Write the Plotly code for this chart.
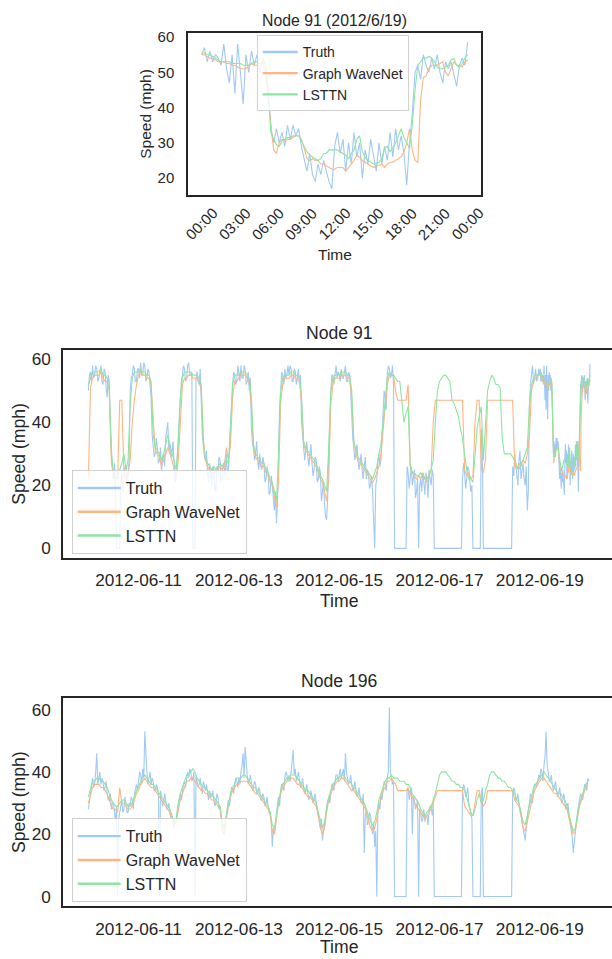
import pandas as pd
import plotly.graph_objects as go

# ---------------- data ----------------
# Top panel: Node 91 on 2012-06-19, 15-minute steps 00:00 .. 24:00
top_truth = [55, 57, 53, 56, 53, 55, 54, 52, 58, 51,
             47, 55, 44, 58, 50, 41, 55, 50, 56, 52,
             55, 50, 54, 52, 46, 34, 30, 34, 30, 33,
             29, 35, 31, 35, 32, 34, 29, 25, 22, 27,
             21, 19, 24, 21, 25, 22, 19, 17, 29, 33,
             27, 31, 22, 30, 24, 33, 26, 30, 20, 28,
             24, 31, 26, 22, 30, 24, 29, 25, 33, 26,
             34, 28, 32, 27, 18, 30, 38, 50, 52, 48,
             55, 52, 50, 54, 51, 55, 50, 47, 53, 51,
             53, 49, 46, 52, 54, 52, 58.6]
top_gwn = [55, 55, 54.5, 54, 54, 53.5, 53, 53, 53, 52.5,
           52.5, 52, 52, 51.5, 51, 51, 51, 52, 52.5, 52,
           52, 52.5, 53, 50, 42, 36, 28, 27, 30, 31,
           30.5, 31, 31, 31.5, 32, 32, 31, 28.5, 25.5, 25,
           25.5, 25, 25, 24, 24, 23.5, 23, 22.5, 22.5, 23,
           23, 23, 22, 23, 24, 25, 26.5, 26, 25, 24.5,
           24, 23.5, 23, 23.5, 23.5, 24, 23, 24, 24.5, 24.5,
           25, 25.5, 26, 27.5, 30, 34, 28, 25, 24.5, 42,
           48.5, 49, 51, 52, 52, 52, 52.5, 53, 50, 49,
           51, 53, 52, 52, 51.5, 53, 53.5]
top_lsttn = [55.5, 55.5, 55, 55, 54.5, 54, 53.5, 53, 53, 53,
             53, 52.5, 52.5, 52.5, 52.5, 52, 52, 52, 52.5, 53,
             53, 54, 54, 52, 44, 33, 31, 29.5, 29, 30.5,
             31, 31.5, 31.5, 32, 32, 32, 30.5, 29, 27.5, 26.5,
             26, 25.5, 25, 25.5, 27, 27, 28, 28, 28, 28,
             27.5, 27, 26.5, 25.5, 27, 28, 31, 32, 27.5, 26,
             25, 24.5, 24, 24, 24.5, 25.5, 28.5, 29, 27.5, 28.5,
             30, 32, 34, 31.5, 30, 28.5, 35, 45, 52, 53,
             54, 54, 54.5, 54, 53, 51.5, 51, 51, 51.5, 52,
             53.5, 54, 52, 51.5, 52.5, 54, 55]

# Node 91, 2012-06-10 00:00 .. 2012-06-18 23:00 (06-19 comes from the top panel)
# truth read on the hour and on the half hour; predictions on the hour
n91_truth = (
    [50, 56, 58, 55, 57, 54, 58, 52, 56, 48, 53, 30, 22, 18, 0, 0, 24, 21, 26, 23, 50, 55, 57, 53]
    + [57, 59, 55, 58, 54, 56, 48, 33, 30, 32, 28, 24, 30, 35, 40, 33, 30, 26, 22, 35, 48, 55, 57, 54]
    + [59, 55, 0, 0, 56, 52, 44, 33, 28, 24, 27, 20, 25, 18, 24, 28, 22, 26, 30, 25, 40, 52, 55, 53]
    + [56, 58, 54, 57, 53, 50, 38, 32, 30, 28, 30, 25, 27, 22, 24, 18, 20, 12, 8, 38, 50, 55, 57, 55]
    + [55, 57, 53, 56, 54, 52, 40, 32, 31, 29, 30, 27, 25, 28, 22, 24, 18, 14, 9, 30, 50, 55, 56, 54]
    + [55, 57, 54, 58, 53, 55, 42, 32, 30, 28, 27, 25, 26, 22, 24, 20, 18, 0, 22, 30, 28, 42, 48, 55]
    + [57, 55, 52, 0, 0, 0, 0, 0, 0, 24, 22, 20, 25, 18, 0, 22, 24, 17, 22, 25, 20, 23, 0, 0]
    + [0, 0, 0, 0, 0, 0, 0, 0, 0, 0, 0, 22, 24, 22, 25, 18, 0, 0, 0, 0, 38, 0, 0, 0]
    + [0, 0, 0, 0, 0, 0, 0, 0, 0, 0, 0, 26, 30, 24, 28, 22, 27, 20, 12, 45, 55, 52, 57, 54]
)
n91_truth_half = (
    [55, 53, 54, 58, 53, 57, 53, 57, 51, 55, 40, 25, 27, 0, 0, 20, 18, 26, 20, 28, 54, 58, 53, 57]
    + [54, 55, 59, 53, 57, 52, 36, 29, 35, 27, 32, 29, 26, 38, 31, 29, 34, 21, 27, 42, 53, 58, 53, 58]
    + [55, 56, 0, 54, 53, 57, 36, 29, 31, 21, 23, 26, 19, 26, 29, 21, 27, 23, 24, 31, 47, 56, 52, 58]
    + [53, 54, 58, 52, 56, 54, 33, 28, 34, 25, 26, 29, 21, 26, 17, 23, 14, 18, 15, 45, 56, 52, 54, 58]
    + [58, 53, 57, 52, 57, 55, 34, 28, 34, 26, 33, 23, 29, 21, 26, 15, 21, 10, 16, 44, 55, 52, 58, 56]
    + [53, 54, 57, 53, 56, 50, 35, 28, 33, 25, 30, 22, 29, 25, 19, 23, 10, 20, 27, 26, 36, 50, 44, 58]
    + [54, 58, 0, 0, 0, 0, 0, 0, 26, 19, 26, 23, 16, 22, 20, 18, 21, 24, 16, 22, 25, 0, 0, 0]
    + [0, 0, 0, 0, 0, 0, 0, 0, 0, 0, 0, 27, 19, 26, 21, 20, 0, 0, 0, 0, 32, 0, 0, 0]
    + [0, 0, 0, 0, 0, 0, 0, 0, 0, 0, 0, 23, 26, 20, 31, 25, 22, 26, 18, 52, 58, 54, 53, 57]
)
n91_gwn = (
    [22, 51, 54, 55, 55, 55, 56, 54, 53, 53, 50, 27, 24, 22, 22, 47, 47, 24, 22, 24, 28, 40, 47, 52]
    + [55, 56, 55, 55, 54, 54, 52, 40, 31, 30, 29, 26, 28, 30, 32, 30, 28, 25, 23, 28, 40, 52, 54, 54]
    + [55, 55, 54, 54, 54, 53, 50, 35, 28, 26, 25, 24, 25, 24, 25, 26, 25, 26, 32, 28, 33, 48, 53, 53]
    + [54, 55, 55, 55, 54, 52, 45, 32, 29, 28, 27, 26, 26, 24, 23, 21, 20, 16, 13, 22, 46, 52, 54, 54]
    + [54, 55, 55, 54, 54, 53, 46, 33, 31, 30, 29, 28, 27, 26, 24, 22, 21, 18, 15, 22, 46, 52, 54, 54]
    + [54, 55, 55, 55, 54, 54, 48, 34, 30, 28, 27, 26, 25, 24, 23, 22, 21, 22, 24, 26, 30, 38, 45, 52]
    + [55, 55, 55, 50, 47, 47, 47, 47, 47, 52, 26, 24, 23, 22, 23, 22, 24, 22, 21, 23, 25, 40, 47, 47]
    + [47, 47, 47, 47, 47, 47, 47, 47, 47, 47, 47, 47, 25, 23, 24, 22, 23, 40, 47, 47, 25, 24, 28, 47]
    + [47, 47, 47, 47, 47, 47, 47, 47, 47, 47, 47, 47, 26, 25, 27, 26, 28, 27, 30, 35, 50, 53, 54, 55]
)
n91_lsttn = (
    [52, 54, 56, 56, 56, 56, 57, 55, 55, 54, 50, 30, 24, 22, 23, 25, 27, 30, 25, 28, 46, 54, 56, 56]
    + [56, 57, 56, 56, 55, 55, 53, 36, 32, 31, 30, 28, 30, 33, 36, 33, 30, 27, 25, 33, 48, 54, 56, 56]
    + [56, 56, 55, 55, 55, 54, 52, 33, 29, 27, 26, 25, 26, 25, 26, 27, 26, 27, 28, 27, 42, 52, 55, 55]
    + [55, 56, 56, 56, 55, 54, 48, 33, 30, 29, 28, 27, 27, 25, 24, 22, 21, 18, 15, 30, 50, 54, 55, 55]
    + [55, 56, 56, 55, 55, 54, 48, 34, 32, 31, 30, 29, 28, 27, 25, 23, 22, 20, 18, 32, 50, 54, 55, 55]
    + [55, 56, 56, 56, 55, 55, 50, 34, 31, 29, 28, 27, 26, 25, 24, 23, 22, 24, 26, 30, 33, 40, 47, 54]
    + [56, 55, 55, 54, 53, 53, 47, 40, 43, 45, 26, 24, 24, 23, 23, 24, 23, 22, 22, 23, 25, 28, 40, 50]
    + [53, 54, 55, 55, 54, 53, 47, 46, 44, 42, 38, 35, 30, 25, 22, 22, 21, 30, 38, 42, 45, 28, 40, 50]
    + [53, 55, 54, 52, 52, 51, 35, 30, 30, 30, 30, 29, 28, 26, 25, 27, 28, 30, 32, 45, 52, 54, 55, 55]
)

# Node 196, 2012-06-10 00:00 .. 2012-06-19 23:00
n196_truth = (
    [28, 33, 38, 36, 46, 38, 36, 37, 35, 33, 31, 28, 30, 24, 0, 27, 31, 28, 30, 27, 29, 31, 33, 36]
    + [37, 39, 41, 53, 40, 38, 36, 37, 34, 35, 0, 32, 30, 31, 28, 27, 25, 22, 24, 29, 33, 34, 37, 38]
    + [38, 40, 38, 0, 37, 36, 35, 37, 34, 33, 34, 32, 31, 30, 32, 29, 23, 21, 27, 31, 33, 35, 36, 37]
    + [38, 40, 46, 48, 39, 37, 36, 35, 36, 33, 34, 31, 32, 30, 29, 27, 16, 20, 27, 32, 34, 36, 38, 39]
    + [39, 40, 47, 41, 38, 37, 36, 35, 34, 33, 32, 32, 31, 30, 26, 22, 18, 23, 29, 32, 34, 36, 37, 39]
    + [39, 38, 41, 46, 38, 37, 36, 35, 34, 33, 32, 30, 14, 28, 24, 26, 20, 16, 0, 30, 33, 35, 36, 38]
    + [60.7, 38, 37, 0, 0, 0, 0, 0, 0, 35, 33, 20, 31, 29, 0, 27, 25, 24, 26, 27, 29, 30, 0, 0]
    + [0, 0, 0, 0, 0, 0, 0, 0, 0, 0, 0, 34, 35, 33, 30, 27, 0, 0, 0, 0, 33, 0, 0, 0]
    + [0, 0, 0, 0, 0, 0, 0, 0, 0, 0, 0, 33, 34, 31, 30, 27, 22, 18, 26, 30, 32, 34, 36, 37]
    + [38, 40, 42, 53, 40, 37, 36, 35, 34, 33, 32, 31, 30, 29, 26, 22, 14, 20, 27, 30, 32, 34, 36, 38]
)
n196_truth_half = (
    [31, 37, 35, 40, 36, 40, 38, 34, 37, 31, 33, 30, 26, 29, 25, 30, 27, 32, 27, 30, 32, 28, 35, 34]
    + [40, 36, 38, 44, 36, 40, 38, 34, 36, 33, 34, 29, 33, 28, 30, 25, 23, 25, 27, 32, 31, 36, 35, 40]
    + [41, 37, 40, 39, 35, 38, 33, 35, 36, 31, 32, 34, 29, 33, 28, 26, 20, 24, 30, 29, 35, 33, 38, 35]
    + [36, 42, 38, 41, 36, 39, 34, 37, 33, 35, 31, 33, 29, 32, 27, 24, 22, 24, 30, 29, 36, 34, 40, 37]
    + [37, 43, 39, 37, 40, 35, 38, 33, 36, 31, 34, 30, 33, 28, 24, 25, 21, 26, 31, 30, 36, 34, 39, 37]
    + [41, 40, 37, 40, 36, 39, 34, 37, 32, 35, 30, 33, 26, 23, 27, 22, 24, 21, 27, 28, 31, 37, 34, 40]
    + [40, 36, 0, 0, 0, 0, 0, 0, 34, 31, 35, 32, 28, 31, 28, 24, 28, 26, 23, 29, 26, 0, 0, 0]
    + [0, 0, 0, 0, 0, 0, 0, 0, 0, 0, 0, 36, 32, 35, 28, 25, 0, 0, 0, 0, 35, 0, 0, 0]
    + [0, 0, 0, 0, 0, 0, 0, 0, 0, 0, 0, 35, 31, 33, 28, 25, 20, 22, 28, 33, 30, 36, 35, 39]
    + [41, 37, 45, 42, 37, 39, 34, 37, 32, 35, 30, 33, 28, 30, 24, 19, 18, 24, 29, 33, 31, 36, 34, 37]
)
n196_gwn = (
    [30, 33, 35, 36, 36, 36, 35, 35, 34, 33, 31, 29, 28, 28, 27, 35, 30, 30, 29, 28, 28, 29, 31, 33]
    + [34, 36, 37, 38, 37, 36, 35, 35, 34, 33, 32, 31, 30, 29, 28, 27, 25, 23, 24, 28, 31, 33, 35, 37]
    + [37, 38, 38, 37, 36, 35, 34, 34, 33, 33, 32, 31, 31, 30, 29, 28, 22, 20, 25, 29, 32, 34, 35, 36]
    + [36, 37, 37, 37, 37, 36, 35, 34, 33, 33, 32, 31, 30, 29, 28, 26, 21, 20, 25, 30, 33, 35, 36, 37]
    + [37, 38, 38, 37, 36, 36, 35, 34, 33, 32, 32, 31, 30, 29, 26, 22, 20, 22, 27, 31, 33, 35, 36, 37]
    + [37, 38, 38, 37, 36, 35, 34, 34, 33, 32, 31, 30, 29, 27, 24, 22, 21, 22, 25, 29, 32, 34, 35, 37]
    + [37, 38, 37, 36, 34, 34, 34, 34, 34, 35, 33, 32, 30, 29, 28, 27, 26, 25, 26, 27, 28, 30, 32, 34]
    + [34, 34, 34, 34, 34, 34, 34, 34, 34, 34, 34, 34, 29, 28, 27, 26, 26, 30, 34, 34, 30, 29, 30, 34]
    + [34, 34, 34, 34, 34, 34, 34, 34, 34, 34, 34, 34, 31, 30, 29, 26, 22, 21, 24, 28, 31, 33, 35, 36]
    + [37, 38, 38, 37, 36, 35, 34, 33, 33, 32, 31, 30, 29, 28, 25, 22, 20, 21, 25, 29, 31, 33, 35, 36]
)
n196_lsttn = (
    [32, 35, 37, 37, 38, 38, 37, 37, 36, 35, 33, 31, 30, 29, 29, 30, 31, 31, 30, 29, 29, 30, 32, 34]
    + [35, 37, 38, 39, 38, 37, 36, 36, 35, 34, 33, 32, 31, 30, 29, 28, 26, 24, 25, 30, 33, 35, 37, 39]
    + [39, 40, 41, 40, 38, 37, 36, 35, 35, 34, 33, 33, 32, 31, 30, 29, 24, 22, 26, 30, 33, 35, 36, 38]
    + [38, 38, 39, 39, 38, 37, 36, 35, 35, 34, 33, 32, 31, 30, 29, 27, 23, 22, 26, 31, 34, 36, 37, 38]
    + [38, 39, 39, 39, 38, 37, 36, 35, 34, 34, 33, 32, 31, 30, 27, 24, 22, 24, 28, 32, 34, 36, 37, 38]
    + [38, 39, 39, 38, 37, 37, 36, 35, 34, 33, 32, 31, 30, 28, 26, 24, 23, 24, 27, 31, 33, 35, 37, 38]
    + [38, 39, 38, 38, 38, 37, 37, 37, 36, 36, 35, 33, 32, 31, 30, 28, 27, 26, 27, 28, 29, 31, 33, 36]
    + [39, 40, 40, 40, 39, 38, 37, 37, 36, 36, 35, 35, 34, 32, 29, 27, 26, 28, 31, 33, 30, 31, 34, 36]
    + [39, 40, 40, 39, 38, 38, 37, 37, 36, 35, 35, 34, 33, 31, 30, 27, 24, 23, 26, 30, 32, 35, 36, 37]
    + [38, 39, 40, 39, 38, 37, 36, 35, 34, 33, 33, 32, 31, 29, 26, 23, 21, 22, 26, 30, 32, 34, 36, 37]
)

series_names = ["Truth", "Graph WaveNet", "LSTTN"]
date_ticks = ["2012-06-11", "2012-06-13", "2012-06-15", "2012-06-17", "2012-06-19"]
top_tick_hours = [0, 3, 6, 9, 12, 15, 18, 21, 24]
top_tick_labels = ["00:00", "03:00", "06:00", "09:00", "12:00", "15:00", "18:00", "21:00", "00:00"]
top_yticks = [20, 30, 40, 50, 60]
main_yticks = [0, 20, 40, 60]

# ---------------- styling ----------------
W, H = 612, 959
COLORS = ["#a1c9f4", "#ffb482", "#8de5a1"]
TXT = "#262626"
FONT = "Liberation Sans, Arial, sans-serif"


def px(x):
    return x / W


def py(y):
    return 1 - y / H


def interleave(times_a, vals_a, times_b, vals_b):
    pairs = sorted(list(zip(times_a, vals_a)) + list(zip(times_b, vals_b)), key=lambda p: p[0])
    return [p[0] for p in pairs], [p[1] for p in pairs]


day0 = pd.Timestamp("2012-06-19")
t_top = pd.date_range(day0, periods=len(top_truth), freq="15min")

t91_h = pd.date_range("2012-06-10", periods=len(n91_truth), freq="h")
t91_half = t91_h + pd.Timedelta(minutes=30)
t91_truth, v91_truth = interleave(t91_h, n91_truth, t91_half, n91_truth_half)
t91_truth = list(t91_truth) + list(t_top)
v91_truth = v91_truth + top_truth
t91 = list(t91_h) + list(t_top)

t196 = pd.date_range("2012-06-10", periods=len(n196_truth), freq="h")
t196_truth, v196_truth = interleave(t196, n196_truth, t196 + pd.Timedelta(minutes=30), n196_truth_half)

fig = go.Figure()

panels = [
    ([t_top, t_top, t_top], [top_truth, top_gwn, top_lsttn], "x", "y", "legend"),
    ([t91_truth, t91, t91], [v91_truth, n91_gwn + top_gwn, n91_lsttn + top_lsttn], "x2", "y2", "legend2"),
    ([t196_truth, t196, t196], [v196_truth, n196_gwn, n196_lsttn], "x3", "y3", "legend3"),
]
for ts, vals, xa, ya, lg in panels:
    for name, t, v, c in zip(series_names, ts, vals, COLORS):
        fig.add_trace(go.Scatter(x=t, y=v, mode="lines", name=name,
                                 line=dict(color=c, width=1.1), showlegend=False,
                                 xaxis=xa, yaxis=ya))
    # legend entries (thicker key lines, as in the reference)
    for name, c in zip(series_names, COLORS):
        fig.add_trace(go.Scatter(x=[None], y=[None], mode="lines", name=name,
                                 line=dict(color=c, width=2.4), showlegend=True,
                                 xaxis=xa, yaxis=ya, legend=lg, hoverinfo="skip"))

# axis geometry (pixels)
TOP_L, TOP_R, TOP_T, TOP_B = 188.3, 481.0, 29.0, 191.7
MID_L, MID_T, MID_B = 63.3, 347.7, 556.7
BOT_T, BOT_B = 697.7, 906.7
PX_PER_DAY = 50.16
main_start = pd.Timestamp("2012-06-09 12:00")
main_end = main_start + pd.Timedelta(days=(W - MID_L) / PX_PER_DAY)

TICK_TOP = dict(family=FONT, color=TXT, size=15)
TICK_MAIN = dict(family=FONT, color=TXT, size=17.2)
axis_common = dict(showgrid=False, zeroline=False, showline=True, linecolor=TXT,
                   linewidth=2, ticks="")

layout = dict(
    width=W, height=H, margin=dict(l=0, r=0, t=0, b=0),
    paper_bgcolor="white", plot_bgcolor="white",
    font=dict(family=FONT, color=TXT),
    xaxis=dict(domain=[px(TOP_L), px(TOP_R)], anchor="y", mirror=True,
               range=[day0 - pd.Timedelta(hours=1.2), day0 + pd.Timedelta(hours=25.2)],
               showticklabels=False, **axis_common),
    yaxis=dict(domain=[py(TOP_B), py(TOP_T)], anchor="x", mirror=True,
               range=[15.3, 61.2], tickvals=top_yticks, ticklabelstandoff=9,
               tickfont=TICK_TOP, **axis_common),
    xaxis2=dict(domain=[px(MID_L), 1], anchor="y2", mirror=True,
                range=[main_start, main_end], tickvals=date_ticks, ticktext=date_ticks,
                ticklabelstandoff=6, tickfont=TICK_MAIN, **axis_common),
    yaxis2=dict(domain=[py(MID_B), py(MID_T)], anchor="x2", mirror=False,
                range=[-3, 63], tickvals=main_yticks, ticklabelstandoff=7,
                tickfont=TICK_MAIN, **axis_common),
    xaxis3=dict(domain=[px(MID_L), 1], anchor="y3", mirror=True,
                range=[main_start, main_end], tickvals=date_ticks, ticktext=date_ticks,
                ticklabelstandoff=6, tickfont=TICK_MAIN, **axis_common),
    yaxis3=dict(domain=[py(BOT_B), py(BOT_T)], anchor="x3", mirror=False,
                range=[-3.03, 63.7], tickvals=main_yticks, ticklabelstandoff=7,
                tickfont=TICK_MAIN, **axis_common),
    showlegend=True,
)

legend_common = dict(xanchor="left", yanchor="top", bgcolor="rgba(255,255,255,0.8)",
                     bordercolor="#d0d0d0", borderwidth=1, tracegroupgap=0)
layout["legend"] = dict(x=px(256.7), y=py(31.5), itemwidth=35,
                        font=dict(family=FONT, size=14, color=TXT), **legend_common)
layout["legend2"] = dict(x=px(71.7), y=py(468.5), itemwidth=43,
                         font=dict(family=FONT, size=16, color=TXT), **legend_common)
layout["legend3"] = dict(x=px(71.7), y=py(818.5), itemwidth=43,
                         font=dict(family=FONT, size=16, color=TXT), **legend_common)

fig.update_layout(**layout)

ann = []


def text(x, y, s, size, angle=0, xref="paper"):
    ann.append(dict(x=x, y=y, xref=xref, yref="paper", text=s, showarrow=False,
                    textangle=angle, xanchor="center", yanchor="middle",
                    font=dict(family=FONT, size=size, color=TXT)))


top_cx = (TOP_L + TOP_R) / 2
main_cx = (MID_L + 615.0) / 2
text(px(top_cx), py(16.5), "Node 91 (2012/6/19)", 15.8)
text(px(top_cx), py(252), "Time", 15.5)
text(px(146), py((TOP_T + TOP_B) / 2), "Speed (mph)", 15.5, -90)
for h, lab in zip(top_tick_hours, top_tick_labels):
    text(day0 + pd.Timedelta(hours=h), py(221), lab, 15, -45, xref="x")

text(px(main_cx), py(331), "Node 91", 17.6)
text(px(main_cx), py(600), "Time", 17.6)
text(px(19), py((MID_T + MID_B) / 2), "Speed (mph)", 17.6, -90)

text(px(main_cx), py(681), "Node 196", 17.6)
text(px(main_cx), py(948), "Time", 17.6)
text(px(19), py((BOT_T + BOT_B) / 2), "Speed (mph)", 17.6, -90)

fig.update_layout(annotations=ann)

fig.write_html("out.html", config={"displayModeBar": False},
               post_script="document.body.style.margin='0';document.body.style.overflow='hidden';")
